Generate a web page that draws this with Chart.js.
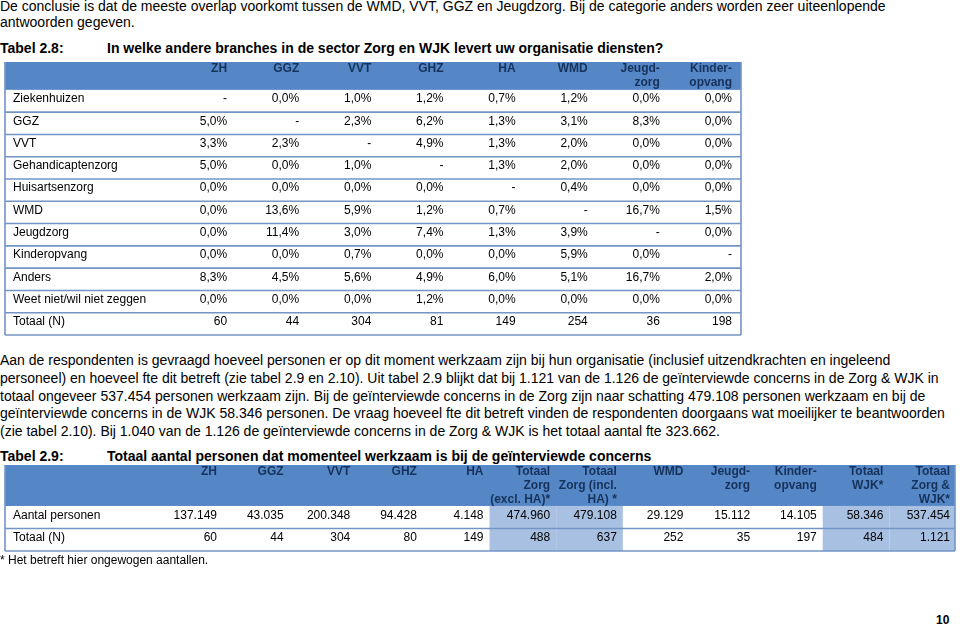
<!DOCTYPE html>
<html lang="nl">
<head>
<meta charset="utf-8">
<script src="https://cdn.jsdelivr.net/npm/chart.js@4"></script>
<style>
  html, body { margin:0; padding:0; background:#fff; }
  body { width:960px; height:627px; position:relative; overflow:hidden;
         font-family:"Liberation Sans", Arial, sans-serif; color:#000; }
  .ln { position:absolute; left:0; white-space:nowrap; font-size:14px; line-height:18px; }
  .b { font-weight:bold; }
  canvas { position:absolute; left:0; }
</style>
</head>
<body>
<div class="ln" style="top:-3px">De conclusie is dat de meeste overlap voorkomt tussen de WMD, VVT, GGZ en Jeugdzorg. Bij de categorie anders worden zeer uiteenlopende</div>
<div class="ln" style="top:13px">antwoorden gegeven.</div>
<div class="ln b" style="top:39px">Tabel 2.8:</div>
<div class="ln b" style="top:39px;left:107px">In welke andere branches in de sector Zorg en WJK levert uw organisatie diensten?</div>

<canvas id="t28" width="760" height="290" style="top:55px"></canvas>

<div class="ln" style="top:351px">Aan de respondenten is gevraagd hoeveel personen er op dit moment werkzaam zijn bij hun organisatie (inclusief uitzendkrachten en ingeleend</div>
<div class="ln" style="top:369px">personeel) en hoeveel fte dit betreft (zie tabel 2.9 en 2.10). Uit tabel 2.9 blijkt dat bij 1.121 van de 1.126 de geïnterviewde concerns in de Zorg &amp; WJK in</div>
<div class="ln" style="top:387px">totaal ongeveer 537.454 personen werkzaam zijn. Bij de geïnterviewde concerns in de Zorg zijn naar schatting 479.108 personen werkzaam en bij de</div>
<div class="ln" style="top:404px">geïnterviewde concerns in de WJK 58.346 personen. De vraag hoeveel fte dit betreft vinden de respondenten doorgaans wat moeilijker te beantwoorden</div>
<div class="ln" style="top:422px">(zie tabel 2.10). Bij 1.040 van de 1.126 de geïnterviewde concerns in de Zorg &amp; WJK is het totaal aantal fte 323.662.</div>

<div class="ln b" style="top:447px">Tabel 2.9:</div>
<div class="ln b" style="top:447px;left:107px">Totaal aantal personen dat momenteel werkzaam is bij de geïnterviewde concerns</div>

<canvas id="t29" width="960" height="100" style="top:460px"></canvas>

<div class="ln" style="top:552px;font-size:12px;line-height:16px">* Het betreft hier ongewogen aantallen.</div>
<div class="ln b" style="top:612px;left:936px;font-size:12px;line-height:16px">10</div>

<script>
// ---------- Tabel 2.8 data ----------
const t28Columns = [['ZH'], ['GGZ'], ['VVT'], ['GHZ'], ['HA'], ['WMD'], ['Jeugd-', 'zorg'], ['Kinder-', 'opvang']];
const t28Rows = ['Ziekenhuizen', 'GGZ', 'VVT', 'Gehandicaptenzorg', 'Huisartsenzorg', 'WMD',
                 'Jeugdzorg', 'Kinderopvang', 'Anders', 'Weet niet/wil niet zeggen'];
const t28Ziekenhuizen  = [null, 0.0, 1.0, 1.2, 0.7, 1.2, 0.0, 0.0];
const t28GGZ           = [5.0, null, 2.3, 6.2, 1.3, 3.1, 8.3, 0.0];
const t28VVT           = [3.3, 2.3, null, 4.9, 1.3, 2.0, 0.0, 0.0];
const t28Gehandicapten = [5.0, 0.0, 1.0, null, 1.3, 2.0, 0.0, 0.0];
const t28Huisartsen    = [0.0, 0.0, 0.0, 0.0, null, 0.4, 0.0, 0.0];
const t28WMD           = [0.0, 13.6, 5.9, 1.2, 0.7, null, 16.7, 1.5];
const t28Jeugdzorg     = [0.0, 11.4, 3.0, 7.4, 1.3, 3.9, null, 0.0];
const t28Kinderopvang  = [0.0, 0.0, 0.7, 0.0, 0.0, 5.9, 0.0, null];
const t28Anders        = [8.3, 4.5, 5.6, 4.9, 6.0, 5.1, 16.7, 2.0];
const t28WeetNiet      = [0.0, 0.0, 0.0, 1.2, 0.0, 0.0, 0.0, 0.0];
const t28TotaalLabel   = 'Totaal (N)';
const t28TotaalN       = [60, 44, 304, 81, 149, 254, 36, 198];

// ---------- Tabel 2.9 data ----------
const t29Columns = [['ZH'], ['GGZ'], ['VVT'], ['GHZ'], ['HA'], ['Totaal', 'Zorg', '(excl. HA)*'],
                    ['Totaal', 'Zorg (incl.', 'HA) *'], ['WMD'], ['Jeugd-', 'zorg'], ['Kinder-', 'opvang'],
                    ['Totaal', 'WJK*'], ['Totaal', 'Zorg &', 'WJK*']];
const t29Rows = ['Aantal personen', 'Totaal (N)'];
const t29Aantal = [137149, 43035, 200348, 94428, 4148, 474960, 479108, 29129, 15112, 14105, 58346, 537454];
const t29TotaalN = [60, 44, 304, 80, 149, 488, 637, 252, 35, 197, 484, 1121];
const t29ShadedCols = [5, 6, 10, 11];   // the "Totaal" columns

// ---------- helpers ----------
const pct = v => v === null ? '-' : v.toFixed(1).replace('.', ',') + '%';
const thousands = n => String(n).replace(/\B(?=(\d{3})+(?!\d))/g, '.');

const FONT = '"Liberation Sans", Arial, sans-serif';
const HEADER_BG = '#5587c6';
const HEADER_FG = '#16325a';
const LINE = '#7395c6';
const SHADE = '#a8c0e2';

const tablePlugin = {
  id: 'tableDraw',
  beforeDatasetsDraw(chart) {
    const cfg = chart.options.plugins.tableDraw;
    const { ctx, chartArea: a, scales: { x, y } } = chart;
    ctx.save();
    const hTop = y.getPixelForValue(0), hBot = y.getPixelForValue(cfg.headerHeight);
    ctx.fillStyle = HEADER_BG;
    ctx.fillRect(a.left, hTop, a.right - a.left, hBot - hTop);
    const pad = cfg.cellPad;
    ctx.fillStyle = SHADE;
    (cfg.shaded || []).forEach(c => {
      const l = x.getPixelForValue(c - 1) + pad, r = Math.min(x.getPixelForValue(c) + pad, a.right);
      ctx.fillRect(l, hBot, r - l, y.getPixelForValue(y.max) - hBot);
    });
    ctx.strokeStyle = LINE;
    ctx.lineWidth = 1.6;
    for (let v = cfg.headerHeight + 1; v <= y.max + 1e-6; v += 1) {
      const py = y.getPixelForValue(v);
      ctx.beginPath(); ctx.moveTo(a.left, py); ctx.lineTo(a.right, py); ctx.stroke();
    }
    const bottom = y.getPixelForValue(y.max);
    ctx.beginPath();
    ctx.moveTo(a.left, hTop); ctx.lineTo(a.left, bottom);
    ctx.moveTo(a.right, hTop); ctx.lineTo(a.right, bottom);
    ctx.stroke();
    ctx.restore();
  },
  afterDatasetsDraw(chart) {
    const cfg = chart.options.plugins.tableDraw;
    const { ctx, chartArea: a, scales: { x, y } } = chart;
    ctx.save();
    ctx.font = 'bold 12px ' + FONT;
    ctx.fillStyle = HEADER_FG;
    ctx.textAlign = 'right';
    ctx.textBaseline = 'middle';
    const hTop = y.getPixelForValue(0);
    cfg.columns.forEach((lines, i) => {
      lines.forEach((t, k) => ctx.fillText(t, x.getPixelForValue(i), hTop + 7 + k * 13.8));
    });
    ctx.font = '12px ' + FONT;
    ctx.fillStyle = '#000';
    ctx.textAlign = 'left';
    cfg.rows.forEach((t, r) => {
      ctx.fillText(t, a.left + 8, y.getPixelForValue(cfg.headerHeight + r + 0.5) - 2);
    });
    ctx.textAlign = 'right';
    const meta = chart.getDatasetMeta(0);
    const data = chart.data.datasets[0].data;
    meta.data.forEach((el, k) => {
      ctx.fillText(data[k].text, el.x, el.y - 2);
    });
    ctx.restore();
  }
};

function cellPoints(rowsOfTexts, headerHeight) {
  const pts = [];
  rowsOfTexts.forEach((row, r) => row.forEach((text, c) => {
    pts.push({ x: c, y: headerHeight + r + 0.5, text });
  }));
  return pts;
}

function makeTable(id, opts) {
  return new Chart(document.getElementById(id), {
    type: 'scatter',
    data: { datasets: [{ data: cellPoints(opts.cells, opts.headerHeight), pointRadius: 0, pointHoverRadius: 0 }] },
    options: {
      responsive: false, animation: false, events: [],
      layout: { padding: opts.padding },
      scales: {
        x: { type: 'linear', display: false, min: opts.xMin, max: opts.xMax },
        y: { type: 'linear', display: false, reverse: true, min: 0, max: opts.headerHeight + opts.cells.length }
      },
      plugins: {
        legend: { display: false }, tooltip: { enabled: false },
        tableDraw: { headerHeight: opts.headerHeight, columns: opts.columns, rows: opts.rows,
                     shaded: opts.shaded, cellPad: opts.cellPad }
      }
    },
    plugins: [tablePlugin]
  });
}

const t28Body = [t28Ziekenhuizen, t28GGZ, t28VVT, t28Gehandicapten, t28Huisartsen, t28WMD,
                 t28Jeugdzorg, t28Kinderopvang, t28Anders, t28WeetNiet].map(r => r.map(pct));
t28Body.push(t28TotaalN.map(String));
makeTable('t28', {
  cells: t28Body, headerHeight: 1.25,
  columns: t28Columns, rows: t28Rows.concat([t28TotaalLabel]),
  xMin: -3.079, xMax: 7.125, cellPad: 8,
  padding: { left: 5, top: 7, right: 19, bottom: 10 }
});

makeTable('t29', {
  cells: [t29Aantal.map(thousands), t29TotaalN.map(thousands)], headerHeight: 1.82,
  columns: t29Columns, rows: t29Rows, shaded: t29ShadedCols,
  xMin: -3.181, xMax: 11.075, cellPad: 6,
  padding: { left: 5, top: 5, right: 5, bottom: 9 }
});
</script>
</body>
</html>
